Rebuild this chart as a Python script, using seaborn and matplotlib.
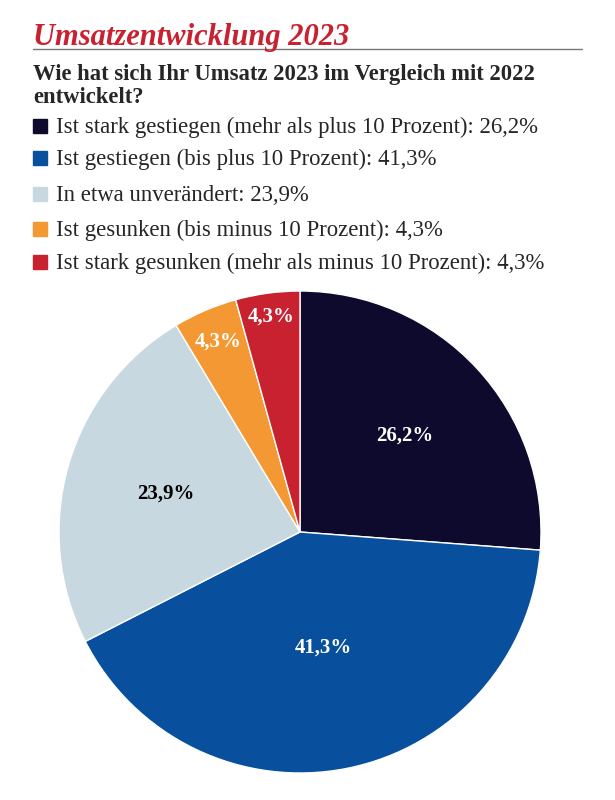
import numpy as np
import seaborn as sns
import matplotlib.pyplot as plt
from matplotlib.patches import Rectangle
from matplotlib.lines import Line2D

title = "Umsatzentwicklung 2023"
question = ["Wie hat sich Ihr Umsatz 2023 im Vergleich mit 2022", "entwickelt?"]
categories = [
    "Ist stark gestiegen (mehr als plus 10 Prozent)",
    "Ist gestiegen (bis plus 10 Prozent)",
    "In etwa unverändert",
    "Ist gesunken (bis minus 10 Prozent)",
    "Ist stark gesunken (mehr als minus 10 Prozent)",
]
shares = [26.2, 41.3, 23.9, 4.3, 4.3]
colors = ["#0d0a2e", "#084f9e", "#c8d8e0", "#f39833", "#c8212f"]
label_colors = ["white", "white", "black", "white", "white"]
label_dist = [0.59, 0.49, 0.58, 0.86, 0.90]

sns.set_theme(style="white")
plt.rcParams['font.family'] = ['Liberation Serif', 'DejaVu Serif']

W, H = 615, 800
fig = plt.figure(figsize=(W / 100, H / 100), dpi=100)


def fx(px):
    return px / W


def fy(py):
    return 1 - py / H


# header
fig.text(fx(33), fy(45), title, color="#c8212f", fontsize=22, fontstyle="italic",
         fontweight="bold", va="baseline", ha="left")
fig.add_artist(Line2D([fx(33), fx(582)], [fy(49), fy(49)], color="#777777", lw=1))
for line, y in zip(question, [80, 103]):
    fig.text(fx(33), fy(y), line, fontsize=16.3, fontweight="bold", va="baseline", ha="left")

# legend
row_y = [126, 158, 194, 229, 262]
for cat, val, col, y in zip(categories, shares, colors, row_y):
    fig.add_artist(Rectangle((fx(33), fy(y + 7)), 14 / W, 14 / H, color=col,
                             transform=fig.transFigure))
    fig.text(fx(56), fy(y + 7), "{}: {}%".format(cat, str(val).replace(".", ",")),
             fontsize=16.4, va="baseline", ha="left")

# pie
cx, cy, r = 300, 532, 241
ax = fig.add_axes([fx(cx - r), fy(cy + r), 2 * r / W, 2 * r / H])
wedges, _ = ax.pie(shares, colors=colors, startangle=90, counterclock=False,
                   wedgeprops=dict(edgecolor="white", linewidth=1))
for w, val, lc, d in zip(wedges, shares, label_colors, label_dist):
    ang = np.deg2rad((w.theta1 + w.theta2) / 2)
    ax.text(d * np.cos(ang), d * np.sin(ang), str(val).replace(".", ",") + "%",
            color=lc, fontsize=15, fontweight="bold", ha="center", va="center")
ax.set_xlim(-1, 1)
ax.set_ylim(-1, 1)
ax.set_aspect("equal")
ax.axis("off")

fig.savefig("out.png", dpi=100)
